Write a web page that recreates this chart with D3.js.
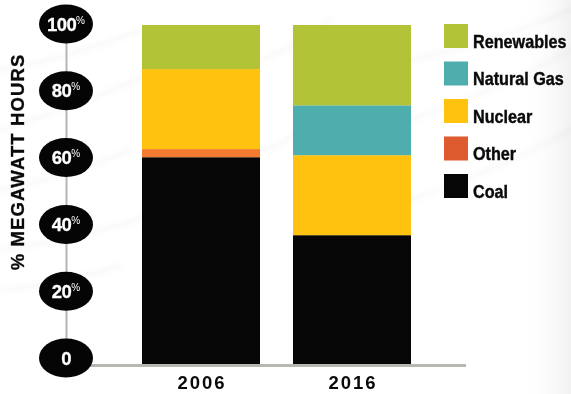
<!DOCTYPE html>
<html>
<head>
<meta charset="utf-8">
<script src="https://cdn.jsdelivr.net/npm/d3@7"></script>
<style>
  html, body { margin: 0; padding: 0; background: #fff; }
  svg { display: block; font-family: "Liberation Sans", Arial, sans-serif; }
</style>
</head>
<body>
<div id="chart"></div>
<script>
const years = ["2006", "2016"];
const sources = ["Coal", "Other", "Nuclear", "Natural Gas", "Renewables"];
const coal = [61, 38];
const other = [2.4, 0];
const nuclear = [23.6, 23.6];
const naturalGas = [0, 14.7];
const renewables = [13, 23.7];
const tickValues = [0, 20, 40, 60, 80, 100];
const legendOrder = ["Renewables", "Natural Gas", "Nuclear", "Other", "Coal"];

const barColor = {
    "Coal": "#070606",
    "Other": "#f47b30",
    "Nuclear": "#fec20f",
    "Natural Gas": "#4eaeae",
    "Renewables": "#b2c337"
};
const legendColor = Object.assign({}, barColor, { "Other": "#dd5b2e" });

const width = 571, height = 394;

const rows = years.map((yr, i) => ({
    year: yr,
    "Coal": coal[i],
    "Other": other[i],
    "Nuclear": nuclear[i],
    "Natural Gas": naturalGas[i],
    "Renewables": renewables[i]
}));

const svg = d3.select("#chart").append("svg")
    .attr("width", width)
    .attr("height", height);

// faint streaky background
const defs = svg.append("defs");
defs.append("filter").attr("id", "blur")
    .append("feGaussianBlur").attr("stdDeviation", 2);
const grad = defs.append("linearGradient").attr("id", "side")
    .attr("x1", 0).attr("x2", 1).attr("y1", 0).attr("y2", 0);
grad.append("stop").attr("offset", 0).attr("stop-color", "#fff").attr("stop-opacity", 0);
grad.append("stop").attr("offset", 1).attr("stop-color", "#e8e8e8").attr("stop-opacity", 1);

svg.append("rect").attr("width", width).attr("height", height).attr("fill", "#fff");
svg.append("rect").attr("x", 520).attr("y", 0).attr("width", 51).attr("height", height)
    .attr("fill", "url(#side)").attr("opacity", 0.6);

const streaks = svg.append("g").attr("filter", "url(#blur)")
    .attr("fill", "none").attr("stroke", "#a0a0a0").attr("stroke-linecap", "round");
[[0, 70, 140, 30], [0, 130, 180, 60], [0, 190, 130, 150], [0, 250, 150, 215],
 [260, 60, 330, 20], [410, 60, 571, 10], [410, 120, 571, 50], [410, 200, 571, 130],
 [0, 290, 120, 265], [260, 150, 300, 130]].forEach(s => {
    streaks.append("path")
        .attr("d", `M${s[0]},${s[1]} Q${(s[0] + s[2]) / 2},${(s[1] + s[3]) / 2 + 8} ${s[2]},${s[3]}`)
        .attr("stroke-width", 4)
        .attr("opacity", 0.07);
});

// scales
const x = d3.scaleBand().domain(years).range([142, 411]).paddingInner(0.2185).paddingOuter(0);
const y = d3.scaleLinear().domain([0, 100]).range([364, 25]);
const yTick = y.copy().range([358, 24]);

const stack = d3.stack().keys(sources);
const series = stack(rows);

// axis lines
svg.append("line")
    .attr("x1", 66.5).attr("x2", 66.5)
    .attr("y1", yTick(100)).attr("y2", yTick(0))
    .attr("stroke", "#b8b5af").attr("stroke-width", 2);
svg.append("line")
    .attr("x1", 66).attr("x2", 466)
    .attr("y1", 365.5).attr("y2", 365.5)
    .attr("stroke", "#b8b6b0").attr("stroke-width", 3);

// bars
svg.append("g").selectAll("g")
    .data(series)
    .join("g")
    .attr("fill", d => barColor[d.key])
    .selectAll("rect")
    .data(d => d)
    .join("rect")
    .attr("x", d => x(d.data.year))
    .attr("width", x.bandwidth())
    .attr("y", d => y(d[1]))
    .attr("height", d => y(d[0]) - y(d[1]));

// tick bubbles
const ticks = svg.append("g").selectAll("g")
    .data(tickValues)
    .join("g")
    .attr("transform", d => `translate(66,${yTick(d)})`);
ticks.append("ellipse")
    .attr("rx", 27).attr("ry", 19.5)
    .attr("fill", "#050505");
const tt = ticks.append("text")
    .attr("fill", "#fff")
    .attr("stroke", "#fff")
    .attr("stroke-width", 0.3)
    .attr("font-weight", "bold")
    .attr("font-size", 18.5)
    .attr("letter-spacing", -0.6)
    .attr("text-anchor", "middle")
    .attr("y", 6.5);
tt.append("tspan").text(d => d);
tt.append("tspan")
    .attr("font-size", 10)
    .attr("font-weight", "normal")
    .attr("stroke-width", 0)
    .attr("dy", -7)
    .attr("letter-spacing", 0)
    .text(d => d === 0 ? "" : "%");

// y title
svg.append("text")
    .attr("transform", "translate(24,162) rotate(-90)")
    .attr("text-anchor", "middle")
    .attr("font-weight", "bold")
    .attr("font-size", 18.5)
    .attr("letter-spacing", 1.1)
    .attr("fill", "#0a0a0a")
    .attr("stroke", "#0a0a0a")
    .attr("stroke-width", 0.3)
    .text("% MEGAWATT HOURS");

// category labels
svg.append("g").selectAll("text")
    .data(years)
    .join("text")
    .attr("x", d => x(d) + x.bandwidth() / 2 + 1)
    .attr("y", 389)
    .attr("text-anchor", "middle")
    .attr("font-weight", "bold")
    .attr("font-size", 18.5)
    .attr("letter-spacing", 2)
    .attr("fill", "#0a0a0a")
    .text(d => d);

// legend
const legend = svg.append("g").selectAll("g")
    .data(legendOrder)
    .join("g")
    .attr("transform", (d, i) => `translate(444,${24 + i * 37.5})`);
legend.append("rect")
    .attr("width", 24).attr("height", 24)
    .attr("fill", d => legendColor[d]);
legend.append("text")
    .attr("transform", "translate(29,23.5) scale(0.9,1)")
    .attr("font-weight", "bold")
    .attr("font-size", 18)
    .attr("fill", "#0a0a0a")
    .attr("stroke", "#0a0a0a")
    .attr("stroke-width", 0.4)
    .text(d => d);
</script>
</body>
</html>
